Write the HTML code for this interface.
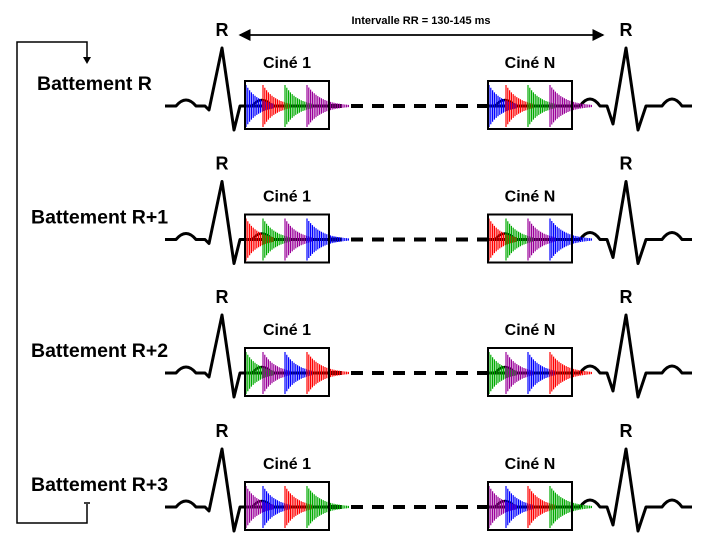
<!DOCTYPE html>
<html><head><meta charset="utf-8"><style>
html,body{margin:0;padding:0;background:#fff;}
svg{display:block;font-family:"Liberation Sans",Arial,sans-serif;}
</style></head><body>
<svg id="s" width="704" height="547" viewBox="0 0 704 547">
<defs>
<marker id="ah" markerWidth="8" markerHeight="8" refX="7" refY="4" orient="auto"><path d="M0,0 L8,4 L0,8 Z" fill="#000"/></marker>
</defs>
<g>
<text x="421" y="24" font-size="11" font-weight="bold" text-anchor="middle">Intervalle RR = 130-145 ms</text>
<line x1="240" y1="35" x2="603" y2="35" stroke="#000" stroke-width="1.5" marker-end="url(#ah)"/>
<line x1="603" y1="35" x2="240" y2="35" stroke="#000" stroke-width="1.5" marker-end="url(#ah)"/>
</g>
<g stroke="#000" stroke-width="1.5" fill="none">
<polyline points="87,60 87,42 17,42 17,523 87,523 87,504"/>
<path d="M83,57 L91,57 L87,64 Z" fill="#000" stroke="none"/>
<line x1="84" y1="503" x2="90" y2="503"/>
</g>
<g id="rows"></g>
</svg>
<script>
const rowLabels=["Battement R","Battement R+1","Battement R+2","Battement R+3"];
const rowColors=[["#0000ff","#ff0000","#00aa00","#990099"],["#ff0000","#00aa00","#990099","#0000ff"],["#00aa00","#990099","#0000ff","#ff0000"],["#990099","#0000ff","#ff0000","#00aa00"]];
const burstOffsets=[1,18,40,62];
const NS="http://www.w3.org/2000/svg";
const g=document.getElementById('rows');
function mk(t,a,p){const e=document.createElementNS(NS,t);for(const k in a)e.setAttribute(k,a[k]);(p||g).appendChild(e);return e;}
const baselines=[106,239.5,373,507];
rowLabels.forEach((lab,i)=>{
  const y=baselines[i];
  const rg=mk('g',{});
  
  
  const t=mk('text',{x:i==0?37:31,y:y-16,'font-size':'19.5','font-weight':'bold'},rg);t.textContent=lab;
  
  
  [222,626].forEach(x=>{const r=mk('text',{x:x,y:y-70,'font-size':'18','font-weight':'bold','text-anchor':'middle'},rg);r.textContent='R';
    
    });
  const ecgL=`M165,${y} L176,${y} Q186,${y-12} 196,${y} L205,${y} L209,${y+4} L222,${y-58} L234,${y+24} L240,${y} L246,${y}`;
  const ecgR=`M573,${y} L580,${y} Q590,${y-14} 600,${y} L607,${y} L613,${y+18} L626,${y-58} L638,${y+24} L646,${y} L662,${y} Q672,${y-14} 682,${y} L692,${y}`;
  [ecgL,ecgR].forEach(d=>{const p=mk('path',{d:d,fill:'none',stroke:'#000','stroke-width':'3','stroke-linejoin':'round'},rg);
    
    });
  const dl=mk('line',{x1:330,y1:y,x2:488,y2:y,stroke:'#000','stroke-width':'4','stroke-dasharray':'12,9'},rg);
  
  
  [[245,'Ciné 1'],[488,'Ciné N']].forEach(([bx,name])=>{
    const c=mk('text',{x:bx+42,y:y-38,'font-size':'16','font-weight':'bold','text-anchor':'middle'},rg);c.textContent=name;
    
    
    mk('line',{x1:bx,y1:y,x2:bx+84,y2:y,stroke:'#000','stroke-width':'3'},rg);
    mk('path',{d:`M${bx+7},${y} Q${bx+17},${y-12} ${bx+27},${y}`,fill:'none',stroke:'#000','stroke-width':'2.5'},rg);
    rowColors[i].forEach((col,k)=>{
      const x0=bx+burstOffsets[k];
      let d='';
      const n=k==3?24:16;
      for(let j=0;j<n;j++){const a=21*Math.exp(-j/(k==3?8:7));const xx=x0+j*1.8;d+=`M${xx},${y-a} L${xx},${y+a} `;}
      const b=mk('path',{d:d,stroke:col,'stroke-width':'1.2',fill:'none'},rg);
      
      
    });
    const r=mk('rect',{x:bx,y:y-25,width:84,height:48,fill:'none',stroke:'#000','stroke-width':'2'},rg);
    
    
  });
});
</script>
</body></html>
